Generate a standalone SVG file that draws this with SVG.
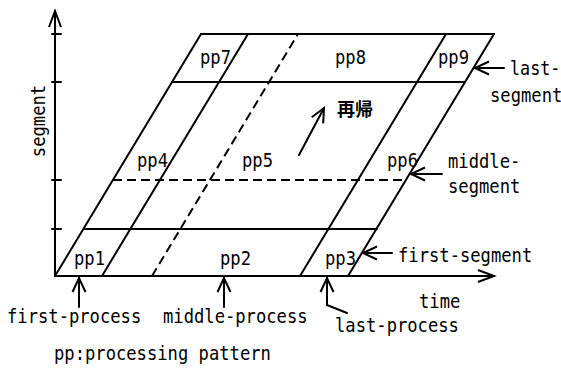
<svg xmlns="http://www.w3.org/2000/svg" width="561" height="372" viewBox="0 0 561 372">
  <style>
    .ln { stroke: #000; stroke-width: 2; fill: none; stroke-linecap: round; }
    .dash { stroke: #000; stroke-width: 2; fill: none; stroke-dasharray: 9 5; }
    .t { font-family: "DejaVu Sans Mono", "Liberation Mono", monospace; font-size: 19.5px; fill: #000; }
    .cjk { font-family: "Noto Sans CJK JP", "Noto Sans CJK SC", sans-serif; font-size: 18px; font-weight: bold; fill: #000; }
  </style>
  <defs>
    <marker id="head" markerUnits="userSpaceOnUse" markerWidth="20" markerHeight="20" refX="0" refY="0" viewBox="-16 -10 20 20" orient="auto" overflow="visible">
      <path d="M-14,-6.5 L0,0 L-14,6.5" fill="none" stroke="#000" stroke-width="2"/>
    </marker>
    <marker id="axishead" markerUnits="userSpaceOnUse" markerWidth="24" markerHeight="24" refX="0" refY="0" viewBox="-20 -10 24 20" orient="auto" overflow="visible">
      <path d="M-16,-6 L0,0 L-16,6" fill="none" stroke="#000" stroke-width="2"/>
    </marker>
  </defs>
  <rect width="561" height="372" fill="#fff"/>

  <!-- axes with tick marks; labels use a narrowed monospace face -->
  <g id="axes">
    <line class="ln" x1="55" y1="276" x2="55" y2="11" marker-end="url(#axishead)"/>
    <line class="ln" x1="55" y1="276" x2="494" y2="276" marker-end="url(#axishead)"/>
    <line class="ln" x1="52" y1="34" x2="61" y2="34"/>
    <line class="ln" x1="52" y1="82" x2="61" y2="82"/>
    <line class="ln" x1="52" y1="180" x2="61" y2="180"/>
    <line class="ln" x1="52" y1="229" x2="61" y2="229"/>
    <text class="t" transform="translate(45,121) rotate(-90) scale(0.88,1)" text-anchor="middle">segment</text>
    <text class="t" transform="translate(419,308) scale(0.88,1)">time</text>
  </g>

  <!-- slanted grid of processing patterns -->
  <g id="grid">
    <line class="ln" x1="55" y1="276" x2="201" y2="34"/>
    <line class="ln" x1="201" y1="34" x2="494" y2="34"/>
    <line class="ln" x1="494" y1="34" x2="348" y2="276"/>
    <line class="ln" x1="102" y1="276" x2="248" y2="34"/>
    <line class="dash" x1="152" y1="276" x2="298" y2="34"/>
    <line class="ln" x1="300" y1="276" x2="446" y2="34"/>
    <line class="ln" x1="84" y1="229" x2="377" y2="229"/>
    <line class="dash" x1="113" y1="180" x2="406" y2="180"/>
    <line class="ln" x1="172" y1="82" x2="465" y2="82"/>
  </g>

  <g id="pp1"><text class="t" transform="translate(74,265) scale(0.88,1)">pp1</text></g>
  <g id="pp2"><text class="t" transform="translate(220,265) scale(0.88,1)">pp2</text></g>
  <g id="pp3"><text class="t" transform="translate(325,265) scale(0.88,1)">pp3</text></g>
  <g id="pp4"><text class="t" transform="translate(137,167) scale(0.88,1)">pp4</text></g>
  <g id="pp5"><text class="t" transform="translate(242,167) scale(0.88,1)">pp5</text></g>
  <g id="pp6"><text class="t" transform="translate(387,167) scale(0.88,1)">pp6</text></g>
  <g id="pp7"><text class="t" transform="translate(200,64) scale(0.88,1)">pp7</text></g>
  <g id="pp8"><text class="t" transform="translate(335,64) scale(0.88,1)">pp8</text></g>
  <g id="pp9"><text class="t" transform="translate(438,64) scale(0.88,1)">pp9</text></g>

  <g id="recursion">
    <text class="cjk" x="337" y="116">再帰</text>
  </g>

  <g id="segment-labels">
    <text class="t" transform="translate(510,75) scale(0.86,1)">last-</text>
    <text class="t" transform="translate(490,102) scale(0.88,1)">segment</text>
    <text class="t" transform="translate(448,168) scale(0.88,1)">middle-</text>
    <text class="t" transform="translate(448,193) scale(0.88,1)">segment</text>
    <text class="t" transform="translate(398,262) scale(0.88,1)">first-segment</text>
  </g>

  <g id="process-labels">
    <text class="t" transform="translate(7,323) scale(0.88,1)">first-process</text>
    <text class="t" transform="translate(163,323) scale(0.88,1)">middle-process</text>
    <text class="t" transform="translate(335,332) scale(0.88,1)">last-process</text>
  </g>

  <g id="legend">
    <text class="t" transform="translate(54,360) scale(0.88,1)">pp:processing pattern</text>
  </g>

  <!-- pointer arrows -->
  <g id="connectors">
    <line class="ln" x1="299" y1="155" x2="324" y2="108" marker-end="url(#head)"/>
    <line class="ln" x1="504" y1="68" x2="475" y2="68" marker-end="url(#head)"/>
    <line class="ln" x1="442" y1="174" x2="411" y2="174" marker-end="url(#head)"/>
    <line class="ln" x1="392" y1="253" x2="363" y2="253" marker-end="url(#head)"/>
    <line class="ln" x1="79" y1="307" x2="79" y2="278" marker-end="url(#head)"/>
    <line class="ln" x1="224" y1="307" x2="224" y2="278" marker-end="url(#head)"/>
    <polyline class="ln" points="347,313 327,305 327,278" marker-end="url(#head)"/>
  </g>
</svg>
